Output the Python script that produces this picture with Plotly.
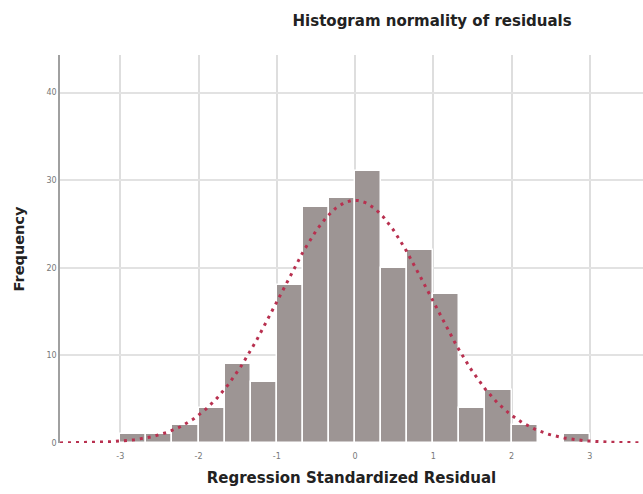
import numpy as np
import plotly.graph_objects as go

# Histogram of regression standardized residuals (bin width 1/3)
bin_left = [-3.0, -2.6667, -2.3333, -2.0, -1.6667, -1.3333, -1.0, -0.6667, -0.3333,
            0.0, 0.3333, 0.6667, 1.0, 1.3333, 1.6667, 2.0, 2.3333, 2.6667]
counts = [1, 1, 2, 4, 9, 7, 18, 27, 28, 31, 20, 22, 17, 4, 6, 2, 0, 1]
bin_width = 1 / 3

# Normal curve parameters (mean, std. dev., N)
resid_mean = 0.0
resid_sd = 0.96
n_obs = 200

x_ticks = [-3, -2, -1, 0, 1, 2, 3]
y_ticks = [0, 10, 20, 30, 40]

centers = [b + bin_width / 2 for b in bin_left]

xs = np.linspace(-3.77, 3.68, 400)
ys = n_obs * bin_width / (resid_sd * np.sqrt(2 * np.pi)) * np.exp(-0.5 * ((xs - resid_mean) / resid_sd) ** 2)

fig = go.Figure()
fig.add_trace(go.Bar(
    x=centers, y=counts, width=bin_width,
    marker=dict(color="#9d9594", line=dict(color="white", width=1.5)),
    showlegend=False,
))
fig.add_trace(go.Scatter(
    x=xs, y=ys, mode="lines",
    line=dict(color="#b8304f", width=3, dash="3px,5px"),
    showlegend=False,
))

fig.update_layout(
    width=643, height=494,
    margin=dict(l=60, r=0, t=55, b=51),
    paper_bgcolor="white", plot_bgcolor="white",
    font=dict(family="DejaVu Sans", color="#333333"),
    bargap=0,
    title=dict(text="<b>Histogram normality of residuals</b>", x=0.672, xanchor="center",
               y=0.958, yanchor="middle", font=dict(size=15, color="#222222")),
)
fig.update_xaxes(
    range=[-3.77, 3.68], tickvals=x_ticks, ticktext=[str(t) for t in x_ticks],
    showgrid=True, gridcolor="#dedede", gridwidth=1.5, zeroline=False,
    showline=False, ticks="", tickfont=dict(size=8, color="#777777"),
    ticklabelstandoff=7,
    title=dict(text="<b>Regression Standardized Residual</b>", font=dict(size=15, color="#222222"), standoff=12),
)
fig.update_yaxes(
    range=[0, 44.3], tickvals=y_ticks, ticktext=[str(t) for t in y_ticks],
    showgrid=True, gridcolor="#e2e2e2", gridwidth=1.5, zeroline=False,
    showline=True, linecolor="#a0a0a0", linewidth=1.5, ticks="",
    tickfont=dict(size=8, color="#777777"),
    title=dict(text="<b>Frequency</b>", font=dict(size=14.5, color="#222222"), standoff=18),
)

fig.write_html("out.html")
